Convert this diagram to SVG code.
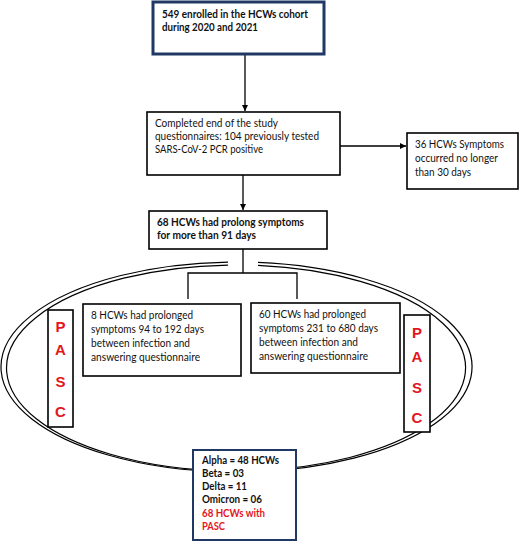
<svg xmlns="http://www.w3.org/2000/svg" width="520" height="542" viewBox="0 0 520 542">
<style>
.box{fill:#fff;stroke:#000;stroke-width:1.6}
.navy{fill:#fff;stroke:#1f3864}
.t{font-family:Lato,"Liberation Sans",sans-serif;font-size:11.5px;fill:#111}
.b{font-weight:bold}
.red{fill:#e3161d}
.pasc{font-family:"Liberation Sans",Arial,sans-serif;font-size:15px;font-weight:bold;fill:#e3161d;text-anchor:middle}
.ln{fill:none;stroke:#000;stroke-width:1.3}
.ell{fill:none;stroke:#000;stroke-width:1.2}
</style>
<defs>
<marker id="ah" viewBox="0 0 10 10" refX="10" refY="5" markerWidth="6" markerHeight="6" orient="auto" markerUnits="userSpaceOnUse">
<path d="M0,0 L10,5 L0,10 z" fill="#000"/>
</marker>
</defs>
<g id="pasc-ellipse">
<path class="ell" d="M228,262.07 A235.5,105 0 1 0 258,262.44"/>
<path class="ell" d="M228,265.06 A229.5,103 0 1 0 258,265.47"/>
</g>
<g id="connectors">
<line class="ln" x1="245" y1="55" x2="245" y2="111" marker-end="url(#ah)"/>
<line class="ln" x1="243" y1="175" x2="243" y2="210" marker-end="url(#ah)"/>
<line class="ln" x1="340" y1="146" x2="406" y2="146" marker-end="url(#ah)"/>
<path class="ln" d="M243,249 V273 M188,299 V273 H297 V299"/>
</g>
<g id="enrolled">
<rect class="navy" x="153" y="2" width="171" height="52" stroke-width="3"/>
<text class="t b" x="162" y="18" textLength="146" lengthAdjust="spacingAndGlyphs">549 enrolled in the HCWs cohort</text>
<text class="t b" x="162" y="31" textLength="96" lengthAdjust="spacingAndGlyphs">during 2020 and 2021</text>
</g>
<g id="completed">
<rect class="box" x="147" y="112" width="193" height="63"/>
<text class="t" x="155" y="127" textLength="123" lengthAdjust="spacingAndGlyphs">Completed end of the study</text>
<text class="t" x="155" y="140" textLength="164" lengthAdjust="spacingAndGlyphs">questionnaires: 104 previously tested</text>
<text class="t" x="155" y="153" textLength="108" lengthAdjust="spacingAndGlyphs">SARS-CoV-2 PCR positive</text>
</g>
<g id="short">
<rect class="box" x="407" y="133" width="111" height="56"/>
<text class="t" x="415" y="148" textLength="89" lengthAdjust="spacingAndGlyphs">36 HCWs Symptoms</text>
<text class="t" x="415" y="162" textLength="83" lengthAdjust="spacingAndGlyphs">occurred no longer</text>
<text class="t" x="415" y="176" textLength="56" lengthAdjust="spacingAndGlyphs">than 30 days</text>
</g>
<g id="prolong">
<rect class="box" x="149" y="211" width="178" height="38"/>
<text class="t b" x="157" y="226" textLength="147" lengthAdjust="spacingAndGlyphs">68 HCWs had prolong symptoms</text>
<text class="t b" x="157" y="239" textLength="99" lengthAdjust="spacingAndGlyphs">for more than 91 days</text>
</g>
<g id="group8">
<rect class="box" x="83" y="304" width="158" height="72"/>
<text class="t" x="91" y="319" textLength="102" lengthAdjust="spacingAndGlyphs">8 HCWs had prolonged</text>
<text class="t" x="91" y="333" textLength="113" lengthAdjust="spacingAndGlyphs">symptoms 94 to 192 days</text>
<text class="t" x="91" y="347" textLength="99" lengthAdjust="spacingAndGlyphs">between infection and</text>
<text class="t" x="91" y="361" textLength="109" lengthAdjust="spacingAndGlyphs">answering questionnaire</text>
</g>
<g id="group60">
<rect class="box" x="251" y="303" width="149" height="70"/>
<text class="t" x="259" y="318" textLength="107" lengthAdjust="spacingAndGlyphs">60 HCWs had prolonged</text>
<text class="t" x="259" y="332" textLength="119" lengthAdjust="spacingAndGlyphs">symptoms 231 to 680 days</text>
<text class="t" x="259" y="346" textLength="99" lengthAdjust="spacingAndGlyphs">between infection and</text>
<text class="t" x="259" y="360" textLength="109" lengthAdjust="spacingAndGlyphs">answering questionnaire</text>
</g>
<g id="pasc-left">
<rect class="box" x="48" y="310" width="25" height="117"/>
<text class="pasc" x="60.5" y="332">P</text>
<text class="pasc" x="60.5" y="355">A</text>
<text class="pasc" x="60.5" y="387">S</text>
<text class="pasc" x="60.5" y="417">C</text>
</g>
<g id="pasc-right">
<rect class="box" x="404" y="315" width="26" height="117"/>
<text class="pasc" x="417" y="338">P</text>
<text class="pasc" x="417" y="362">A</text>
<text class="pasc" x="417" y="393">S</text>
<text class="pasc" x="417" y="423">C</text>
</g>
<g id="variants">
<rect class="navy" x="193" y="450" width="103" height="90" stroke-width="2"/>
<text class="t b" x="202" y="464" textLength="77" lengthAdjust="spacingAndGlyphs">Alpha = 48 HCWs</text>
<text class="t b" x="202" y="477" textLength="42" lengthAdjust="spacingAndGlyphs">Beta = 03</text>
<text class="t b" x="202" y="490" textLength="45" lengthAdjust="spacingAndGlyphs">Delta = 11</text>
<text class="t b" x="202" y="503" textLength="60" lengthAdjust="spacingAndGlyphs">Omicron = 06</text>
<text class="t b red" x="202" y="517" textLength="63" lengthAdjust="spacingAndGlyphs">68 HCWs with</text>
<text class="t b red" x="202" y="530" textLength="23" lengthAdjust="spacingAndGlyphs">PASC</text>
</g>
</svg>
